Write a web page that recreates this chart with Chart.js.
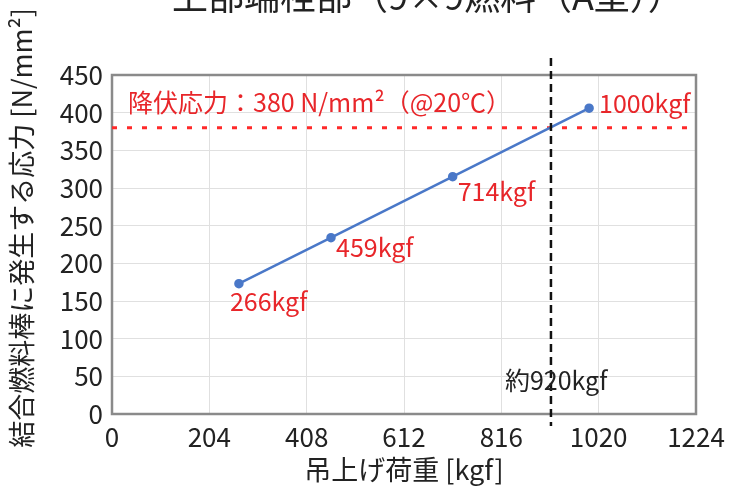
<!DOCTYPE html>
<html>
<head>
<meta charset="utf-8">
<script src="https://cdn.jsdelivr.net/npm/chart.js@4/dist/chart.umd.min.js"></script>
<style>
    html, body { margin: 0; padding: 0; background: #fff; }
    #wrap { width: 729px; height: 491px; }
</style>
</head>
<body>
<div id="wrap"><canvas id="stressChart"></canvas></div>
<script>
// data
const loads = [266, 459, 714, 1000];            // kgf
const stresses = [173, 234, 315, 406];          // N/mm2
const pointLabels = ["266kgf", "459kgf", "714kgf", "1000kgf"];
const yieldStress = 380;
const limitLoad = 920;
const limitLabel = "約920kgf";
const yieldLabel = "降伏応力：380 N/mm²（@20℃）";
const xTicks = [0, 204, 408, 612, 816, 1020, 1224];
const yTicks = [0, 50, 100, 150, 200, 250, 300, 350, 400, 450];

const titleText = "上部端栓部（9×9燃料（A型））";
const xTitle = "吊上げ荷重 [kgf]";
const yTitle = "結合燃料棒に発生する応力 [N/mm²]";

const FONT = "'Noto Sans CJK JP', 'Noto Sans', sans-serif";
const RED = "#e8262a";

document.addEventListener("DOMContentLoaded", function () {
    const ctx = document.getElementById("stressChart").getContext("2d");

    // offsets of the red point labels (left edge, vertical centre)
    const labelOffsets = [[-9, 18], [5, 10], [5, 15], [10, -5]];

    const overlay = {
        id: "overlay",
        beforeDatasetsDraw(chart) {
            const c = chart.ctx;
            const a = chart.chartArea;
            c.save();
            c.strokeStyle = "#8a8a8a";
            c.lineWidth = 2.5;
            c.strokeRect(a.left, a.top, a.right - a.left, a.bottom - a.top);
            c.restore();
        },
        afterDatasetsDraw(chart) {
            const c = chart.ctx;
            const a = chart.chartArea;
            const xs = chart.scales.x;
            const ys = chart.scales.y;

            // vertical limit line
            const vx = xs.getPixelForValue(limitLoad);
            c.save();
            c.strokeStyle = "#111";
            c.lineWidth = 2.5;
            c.setLineDash([8, 5]);
            c.beginPath();
            c.moveTo(vx, a.top - 17);
            c.lineTo(vx, a.bottom + 12);
            c.stroke();
            c.restore();

            c.save();
            c.textBaseline = "middle";
            c.textAlign = "left";

            // point labels
            c.font = "25px " + FONT;
            c.fillStyle = RED;
            const meta = chart.getDatasetMeta(0);
            meta.data.forEach((pt, i) => {
                c.fillText(pointLabels[i], pt.x + labelOffsets[i][0], pt.y + labelOffsets[i][1]);
            });

            // yield label
            c.fillText(yieldLabel, a.left + 16, ys.getPixelForValue(yieldStress) - 25);

            // limit label
            c.fillStyle = "#222";
            c.fillText(limitLabel, vx - 46, a.bottom - 34);

            // x title
            c.font = "27px " + FONT;
            c.textAlign = "center";
            c.fillText(xTitle, (a.left + a.right) / 2, 470);

            // title (cut off at the top)
            c.font = "36px " + FONT;
            c.textAlign = "left";
            c.textBaseline = "bottom";
            c.fillText(titleText, 172, 14);

            // y title
            c.translate(22, 228);
            c.rotate(-Math.PI / 2);
            c.font = "27px " + FONT;
            c.textAlign = "center";
            c.textBaseline = "middle";
            c.fillText(yTitle, 0, 0);
            c.restore();
        }
    };

    new Chart(ctx, {
        type: "scatter",
        data: {
            datasets: [
                {
                    label: "stress",
                    data: loads.map((x, i) => ({ x: x, y: stresses[i] })),
                    showLine: true,
                    borderColor: "#4a78c8",
                    backgroundColor: "#4a78c8",
                    borderWidth: 2.5,
                    pointRadius: 3.5,
                    pointHoverRadius: 3.5
                },
                {
                    label: "yield",
                    data: [
                        { x: xTicks[0], y: yieldStress },
                        { x: xTicks[xTicks.length - 1], y: yieldStress }
                    ],
                    showLine: true,
                    borderColor: "#ff2a2a",
                    borderWidth: 3,
                    borderDash: [5, 10],
                    pointRadius: 0
                }
            ]
        },
        options: {
            responsive: true,
            maintainAspectRatio: false,
            animation: false,
            layout: { padding: { top: 75, right: 33, left: 0, bottom: 0 } },
            scales: {
                x: {
                    type: "linear",
                    min: xTicks[0],
                    max: xTicks[xTicks.length - 1],
                    afterBuildTicks: s => { s.ticks = xTicks.map(v => ({ value: v })); },
                    afterFit: s => { s.height = 77; s.paddingRight = 0; s.paddingLeft = 0; },
                    grid: { color: "#e0e0e0", drawTicks: false },
                    border: { display: false },
                    ticks: {
                        color: "#222", padding: 8, maxRotation: 0, autoSkip: false,
                        font: { size: 26, family: FONT },
                        callback: v => String(v)
                    }
                },
                y: {
                    min: yTicks[0],
                    max: yTicks[yTicks.length - 1],
                    afterBuildTicks: s => { s.ticks = yTicks.map(v => ({ value: v })); },
                    afterFit: s => { s.width = 112; },
                    grid: { color: "#e0e0e0", drawTicks: false },
                    border: { display: false },
                    ticks: {
                        color: "#222", padding: 9,
                        font: { size: 26, family: FONT },
                        callback: v => String(v)
                    }
                }
            },
            plugins: {
                legend: { display: false },
                tooltip: { enabled: false }
            }
        },
        plugins: [overlay]
    });
});
</script>
</body>
</html>
